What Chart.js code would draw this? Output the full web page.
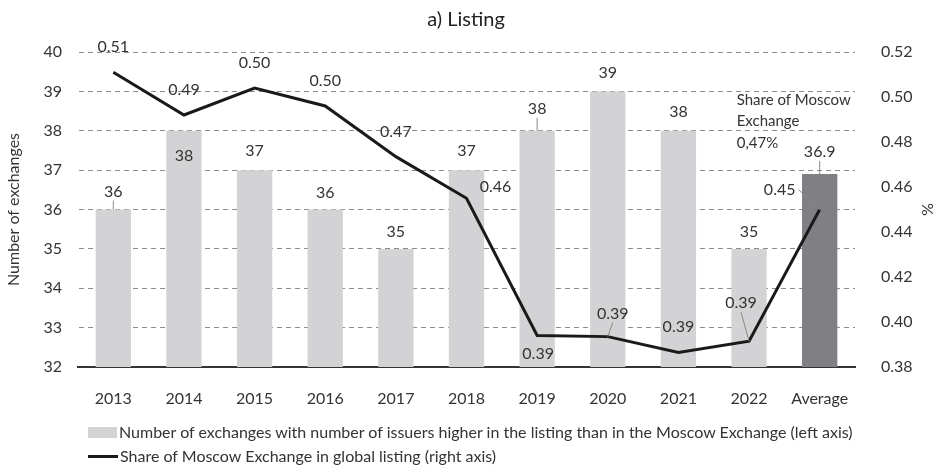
<!DOCTYPE html>
<html>
<head>
<meta charset="utf-8">
<script src="https://cdn.jsdelivr.net/npm/chart.js@4.4.1/dist/chart.umd.min.js"></script>
<style>
  body { margin: 0; background: #fff; }
  #wrap { position: relative; width: 937px; height: 469px; font-family: Lato, sans-serif; color: #333; }
  .leg { position: absolute; left: 88px; font-size: 16px; line-height: 20px; white-space: nowrap; display: flex; align-items: center; }
  .leg .box { width: 29px; height: 11px; background: #d3d3d5; margin-right: 2px; }
  .leg .ln { width: 30px; height: 3px; background: #1a1a1a; margin-right: 2px; }
</style>
</head>
<body>
<div id="wrap">
  <canvas id="myChart" width="937" height="469"></canvas>
  <div class="leg" style="top:422px"><span class="box"></span>Number of exchanges with number of issuers higher in the listing than in the Moscow Exchange (left axis)</div>
  <div class="leg" style="top:446px"><span class="ln"></span>Share of Moscow Exchange in global listing (right axis)</div>
</div>
<script>
let years = ['2013', '2014', '2015', '2016', '2017', '2018', '2019', '2020', '2021', '2022', 'Average'];
let exchangeCount = [36, 38, 37, 36, 35, 37, 38, 39, 38, 35, 36.9];
let moexShare = [0.511, 0.492, 0.504, 0.496, 0.4735, 0.455, 0.394, 0.3935, 0.3865, 0.3915, 0.450];
let countLabels = ['36', '38', '37', '36', '35', '37', '38', '39', '38', '35', '36.9'];
let shareLabels = ['0.51', '0.49', '0.50', '0.50', '0.47', '0.46', '0.39', '0.39', '0.39', '0.39', '0.45'];

// label placement (pixel offsets from bar top / line point)
let barLabelOffset = [[0, -18], [0, 25], [0, -19], [0, -17], [0, -17], [0, -19], [0, -22], [0, -19], [0, -19], [0, -17], [0, -22]];
let barLeader = [true, false, false, false, false, false, true, false, false, false, true];
let lineLabelOffset = [[0, -25], [0, -25], [0, -25], [0, -25], [0, -25], [29, -11], [1, 18], [5, -23], [0, -26], [-8, -38], [-40, -20]];
let lineLeader = [false, false, false, false, false, false, false, true, false, true, true];

let barColors = years.map(y => y === 'Average' ? '#808084' : '#d3d3d5');
let FONT = 'Lato, sans-serif';

let labelPlugin = {
    id: 'labels',
    afterDatasetsDraw(chart) {
        let ctx = chart.ctx;
        ctx.save();
        ctx.font = '16px ' + FONT;
        ctx.textAlign = 'center';
        ctx.textBaseline = 'middle';

        function put(el, text, off, leader) {
            let lx = el.x + off[0], ly = el.y + off[1];
            if (leader) {
                ctx.strokeStyle = '#8a8a8a';
                ctx.lineWidth = 1;
                ctx.beginPath();
                let w = ctx.measureText(text).width;
                if (Math.abs(off[0]) > 25) {
                    ctx.moveTo(lx + Math.sign(-off[0]) * (w / 2 + 3), ly);
                } else {
                    ctx.moveTo(lx, ly + 9);
                }
                ctx.lineTo(el.x, el.y);
                ctx.stroke();
            }
            ctx.fillStyle = '#333';
            ctx.fillText(text, lx, ly);
        }

        let bars = chart.getDatasetMeta(1).data;
        bars.forEach((el, i) => put(el, countLabels[i], barLabelOffset[i], barLeader[i]));
        let pts = chart.getDatasetMeta(0).data;
        pts.forEach((el, i) => put(el, shareLabels[i], lineLabelOffset[i], lineLeader[i]));

        // note above the Average bar
        let ax = chart.scales.x.getPixelForValue(years.length - 1) - 83;
        ctx.textAlign = 'left';
        ctx.font = '15px ' + FONT;
        ctx.fillText('Share of Moscow', ax, 100);
        ctx.fillText('Exchange', ax, 121);
        ctx.fillText('0,47%', ax, 143);

        // title
        ctx.textAlign = 'center';
        ctx.font = '20px ' + FONT;
        ctx.fillStyle = '#222';
        ctx.fillText('a) Listing', 466, 20);
        ctx.restore();
    }
};

let myChart1 = document.getElementById('myChart').getContext('2d');

let chart1 = new Chart(myChart1, {
    type: 'bar',
    data: {
        labels: years,
        datasets: [{
            type: 'line',
            label: 'Share of Moscow Exchange in global listing (right axis)',
            data: moexShare,
            yAxisID: 'y1',
            borderColor: '#1a1a1a',
            borderWidth: 3,
            pointRadius: 0,
            tension: 0,
            order: 0
        }, {
            type: 'bar',
            label: 'Number of exchanges with number of issuers higher in the listing than in the Moscow Exchange (left axis)',
            data: exchangeCount,
            yAxisID: 'y',
            backgroundColor: barColors,
            barPercentage: 0.5,
            categoryPercentage: 1,
            order: 1
        }]
    },
    options: {
        responsive: false,
        animation: false,
        layout: { padding: { top: 52, left: 4, right: 0, bottom: 0 } },
        plugins: {
            legend: { display: false },
            tooltip: { enabled: false }
        },
        scales: {
            x: {
                grid: { display: false },
                border: { display: true, color: '#333', width: 2 },
                ticks: { font: { family: FONT, size: 16 }, color: '#333', padding: 14, maxRotation: 0 },
                afterFit: s => { s.height = 102; }
            },
            y: {
                position: 'left',
                min: 32,
                max: 40,
                ticks: { stepSize: 1, font: { family: FONT, size: 16 }, color: '#333', padding: 16 },
                grid: { color: '#8c8c8c', lineWidth: 1, drawTicks: false },
                border: { display: true, color: 'rgba(0,0,0,0)', dash: [5, 4] },
                title: { display: true, text: 'Number of exchanges', font: { family: FONT, size: 16 }, color: '#333', padding: 0 },
                afterFit: s => { s.width = 74; }
            },
            y1: {
                position: 'right',
                min: 0.38,
                max: 0.52,
                ticks: {
                    stepSize: 0.02,
                    font: { family: FONT, size: 16 },
                    color: '#333',
                    padding: 18,
                    callback: v => v.toFixed(2)
                },
                grid: { display: false },
                border: { display: false },
                title: { display: true, text: '%', font: { family: FONT, size: 16 }, color: '#333', padding: 0 },
                afterFit: s => { s.width = 82; }
            }
        }
    },
    plugins: [labelPlugin]
});
</script>
</body>
</html>
